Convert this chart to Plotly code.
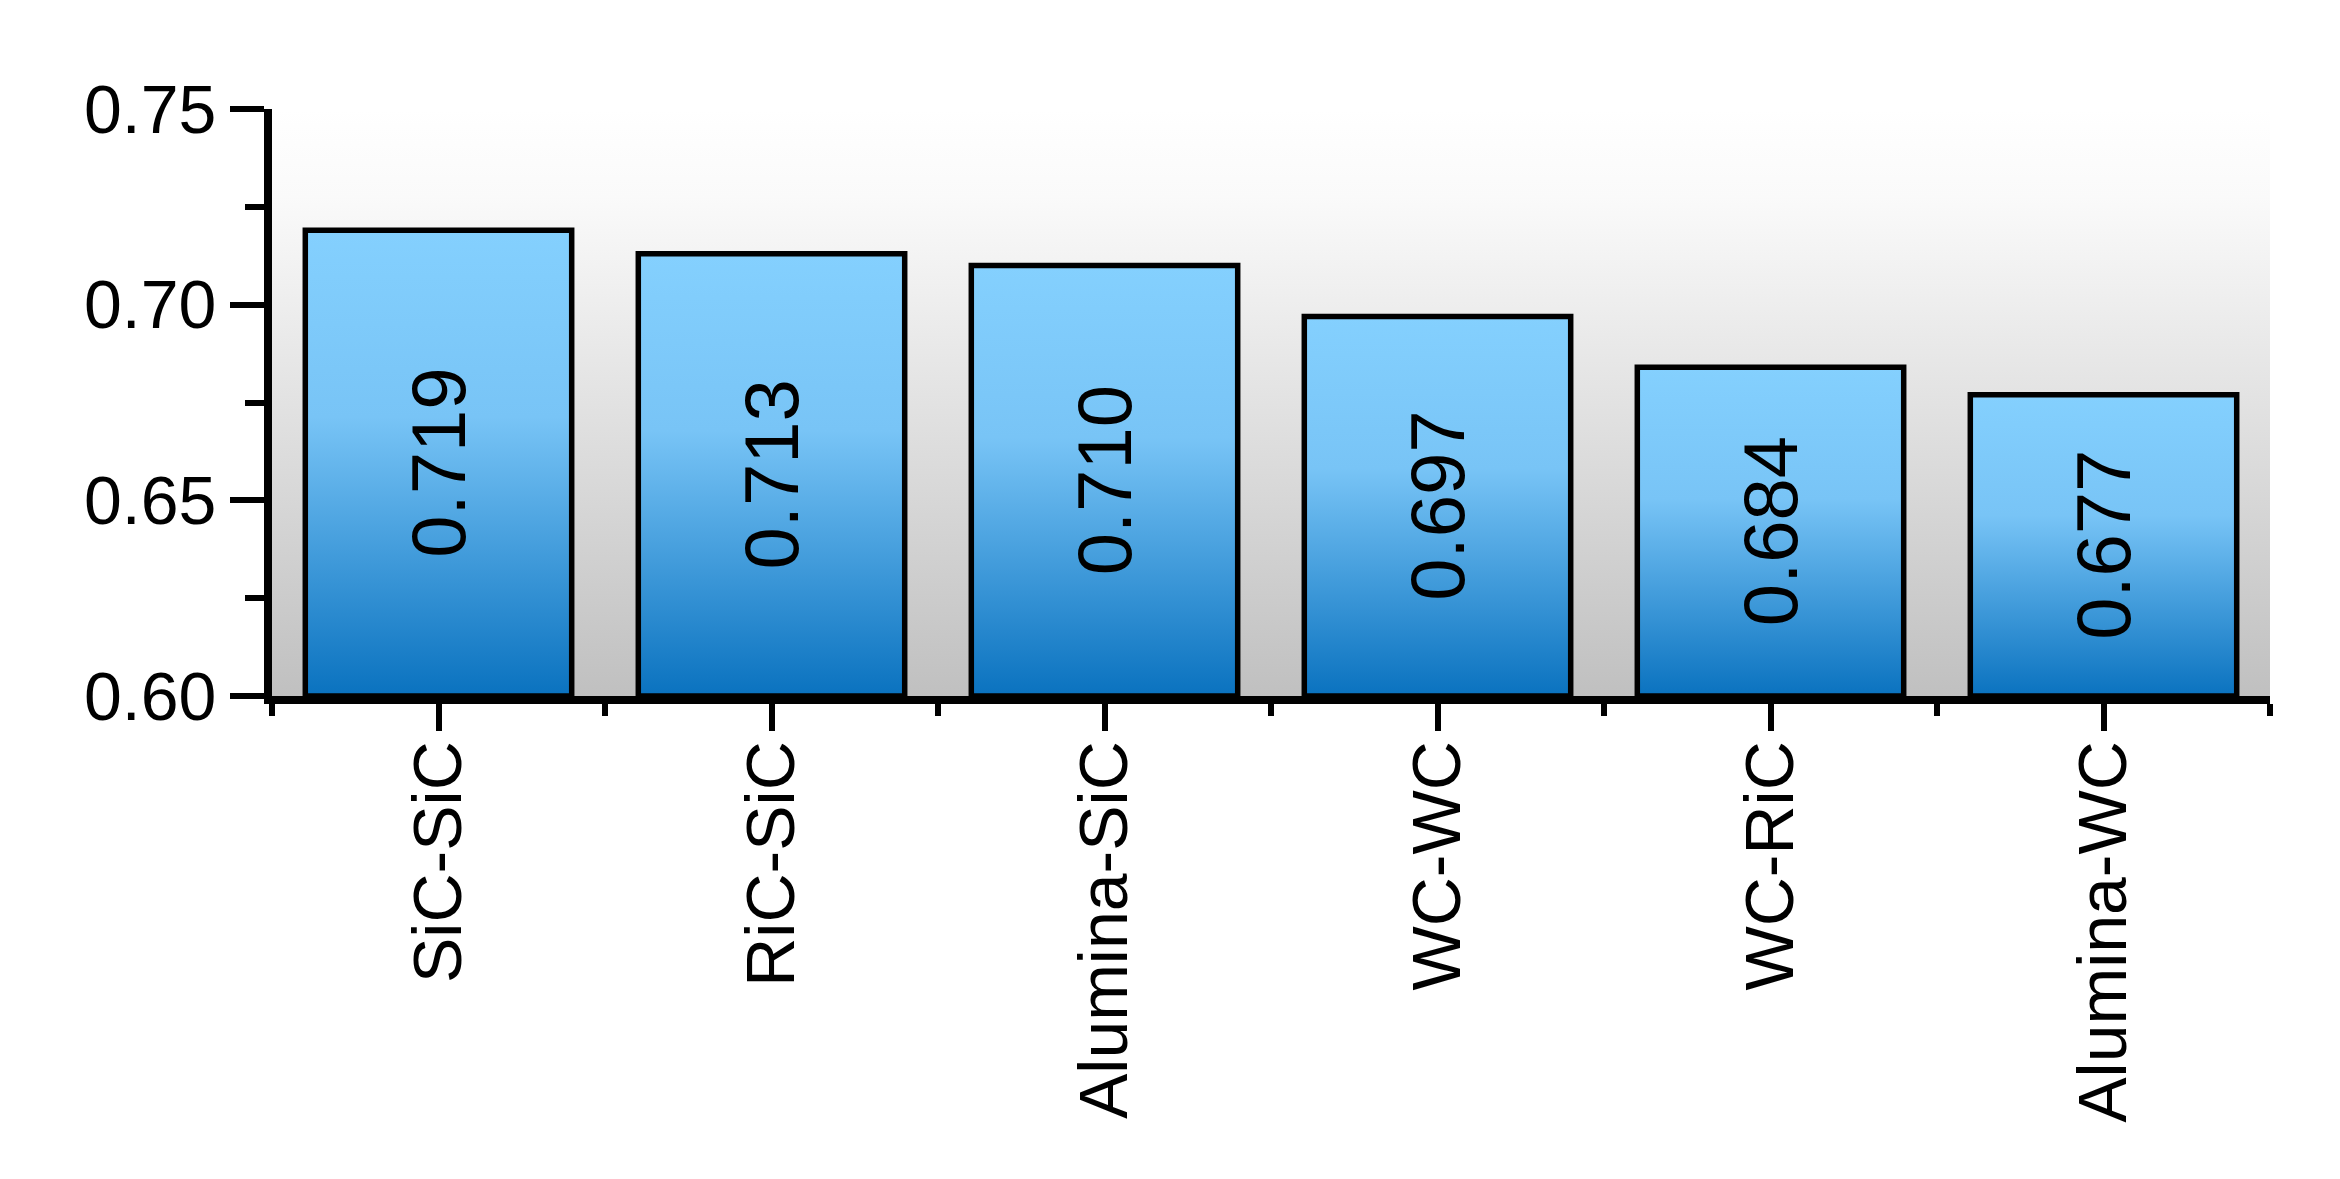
import plotly.graph_objects as go

# data
pairs = ["SiC-SiC", "RiC-SiC", "Alumina-SiC", "WC-WC", "WC-RiC", "Alumina-WC"]
values = [0.719, 0.713, 0.710, 0.697, 0.684, 0.677]
y_min, y_max = 0.60, 0.75
y_ticks = [0.60, 0.65, 0.70, 0.75]

bar_half = 0.4
font_name = "Liberation Sans, Arial, sans-serif"

fig = go.Figure()

# grey-to-white backdrop of the plot area
fig.add_trace(go.Scatter(
    x=[-0.5, -0.5, len(pairs) - 0.5, len(pairs) - 0.5, -0.5],
    y=[y_min, y_max, y_max, y_min, y_min],
    mode="none", fill="toself",
    fillgradient=dict(type="vertical", colorscale=[[0, "#c0c0c0"], [0.85, "#fafafa"], [1, "#ffffff"]]),
    hoverinfo="skip", showlegend=False,
))

# bars drawn as filled boxes so each one can carry its own gradient
for i, (name, v) in enumerate(zip(pairs, values)):
    fig.add_trace(go.Scatter(
        x=[i - bar_half, i - bar_half, i + bar_half, i + bar_half, i - bar_half],
        y=[y_min, v, v, y_min, y_min],
        mode="lines", fill="toself",
        line=dict(color="black", width=5.5),
        fillgradient=dict(type="vertical",
                          colorscale=[[0, "#0a72bf"], [0.6, "#78c4f6"], [1, "#84d0fe"]]),
        name=name, hoverinfo="skip", showlegend=False,
    ))
    fig.add_annotation(
        x=i, y=(y_min + v) / 2, text=f"{v:.3f}", textangle=-90,
        showarrow=False, font=dict(family=font_name, size=76, color="black"),
    )

# the page body keeps an 8px margin, so the figure is a little smaller than the window
fig.update_layout(
    width=2332, height=1171,
    margin=dict(l=264, r=70, t=101, b=483),
    paper_bgcolor="white", plot_bgcolor="white",
    font=dict(family=font_name, size=68, color="black"),
    showlegend=False,
    xaxis=dict(
        range=[-0.5, len(pairs) - 0.5],
        tickmode="array", tickvals=list(range(len(pairs))), ticktext=pairs,
        tickangle=-90, ticks="outside", ticklen=27, tickwidth=6, tickcolor="black",
        ticklabelstandoff=-17,
        minor=dict(tickmode="linear", tick0=-0.5, dtick=1, ticks="outside",
                   ticklen=12, tickwidth=6, tickcolor="black"),
        showline=True, linecolor="black", linewidth=8,
        showgrid=False, zeroline=False,
    ),
    yaxis=dict(
        range=[y_min, y_max],
        tickmode="array", tickvals=y_ticks, tickformat=".2f",
        ticks="outside", ticklen=34, tickwidth=6, tickcolor="black",
        minor=dict(tickmode="linear", tick0=0.6, dtick=0.025, ticks="outside",
                   ticklen=19, tickwidth=6, tickcolor="black"),
        showline=True, linecolor="black", linewidth=8,
        showgrid=False, zeroline=False,
    ),
)

fig.write_html("out.html")
